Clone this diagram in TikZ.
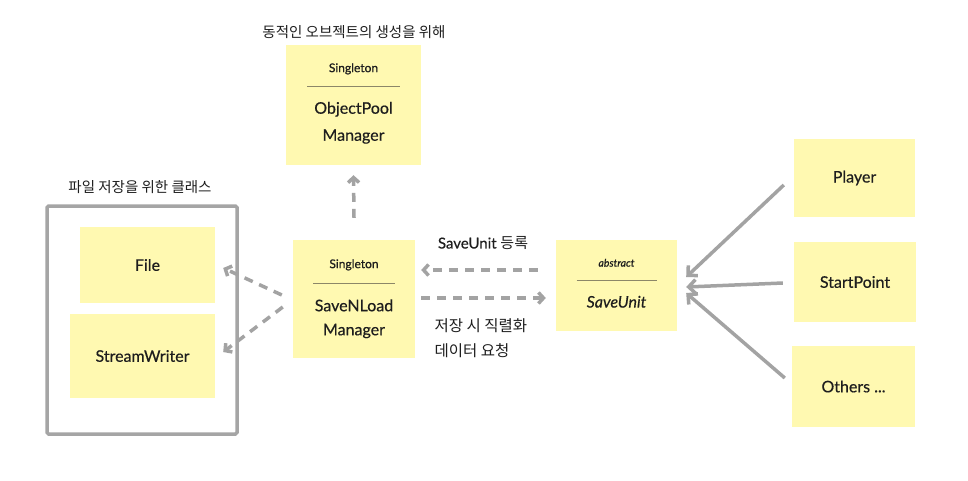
\documentclass[tikz,border=0pt]{standalone}
\usepackage{fontspec}
\setmainfont{Lato}[FakeBold=0.45]
\newfontfamily\cjk{Noto Sans CJK KR}
\newfontfamily\stereo{Lato}[FakeBold=0.9]
\usetikzlibrary{calc,arrows.meta}
\definecolor{sticky}{HTML}{FFF9B1}
\definecolor{arrowgray}{HTML}{A3A3A3}
\definecolor{framegray}{HTML}{A5A5A5}
\definecolor{sepline}{HTML}{8C8768}
\definecolor{ink}{HTML}{1E1E1E}

\begin{document}
\begin{tikzpicture}[x=1pt,y=-1pt,
  note/.style={fill=sticky, draw=none, inner sep=0pt},
  big/.style={font=\fontsize{16}{26}\selectfont, text=ink, align=center},
  small/.style={font=\stereo\fontsize{12}{13}\selectfont, text=ink},
  hangul/.style={font=\cjk\fontsize{14.5}{25}\selectfont, text=ink},
  sep/.style={draw=sepline, line width=1pt},
  frame/.style={draw=framegray, line width=3.5pt, rounded corners=1.5pt, inner sep=0pt},
  dep/.style={draw=arrowgray, line width=3.5pt, dash pattern=on 9pt off 7pt,
    -{Straight Barb[length=5pt,width=11pt]}},
  inherit/.style={draw=arrowgray, line width=3.5pt,
    -{Straight Barb[length=7pt,width=14pt]}}]
  \useasboundingbox (0,0) rectangle (968,480);

  % Pool.
  \node[hangul] (poollbl) at (354,32) {동적인 오브젝트의 생성을 위해};
  \node[note, minimum width=135pt, minimum height=120pt] (pool) at (353.5,105) {};
  \node[small] (poolst) at ($(pool.north)+(0,24)$) {Singleton};
  \draw[sep] ($(pool.north)+(-46.5,42)$) -- ($(pool.north)+(46.5,42)$);
  \node[big, font=\fontsize{16}{27}\selectfont] (poolname) at ($(pool.north)+(0,78)$) {ObjectPool\\Manager};

  % Fichiers.
  \node[hangul] (grplbl) at (140,187) {파일 저장을 위한 클래스};
  \node[frame, minimum width=190pt, minimum height=228pt] (grp) at (142,320) {};
  \node[note, minimum width=135pt, minimum height=76pt] (file) at (147.5,265) {};
  \node[big] (filename) at (file.center) {File};
  \node[note, minimum width=145pt, minimum height=84pt] (writer) at (142.5,356) {};
  \node[big] (writername) at (writer.center) {StreamWriter};

  % SaveNLoad.
  \node[note, minimum width=122pt, minimum height=118pt] (snl) at (354,299) {};
  \node[small] (snlst) at ($(snl.north)+(0,25)$) {Singleton};
  \draw[sep] ($(snl.north)+(-41,44)$) -- ($(snl.north)+(41,44)$);
  \node[big, font=\fontsize{16}{24}\selectfont] (snlname) at ($(snl.north)+(0,79)$) {SaveNLoad\\Manager};

  % SaveUnit.
  \node[note, minimum width=121pt, minimum height=91pt] (su) at (616.5,285.5) {};
  \node[small, font=\stereo\itshape\fontsize{10.5}{11}\selectfont] (sust) at ($(su.north)+(0,23)$) {abstract};
  \draw[sep] ($(su.north)+(-40,41)$) -- ($(su.north)+(40,41)$);
  \node[big, font=\itshape\fontsize{16}{26}\selectfont] (suname) at ($(su.north)+(0,62)$) {SaveUnit};

  % Enfants.
  \node[note, minimum width=121pt, minimum height=78pt] (player) at (854.5,178) {};
  \node[big] (playername) at (player.center) {Player};
  \node[note, minimum width=122pt, minimum height=80pt] (start) at (855,282) {};
  \node[big] (startname) at (start.center) {StartPoint};
  \node[note, minimum width=123pt, minimum height=81pt] (others) at (853.5,386.5) {};
  \node[big] (othersname) at (others.center) {Others ...};

  % Libelles.
  \node[big, font=\fontsize{15}{25}\selectfont] (reglbl) at (483,243) {SaveUnit {\cjk 등록}};
  \node[hangul, font=\cjk\fontsize{15.5}{25}\selectfont, align=left, anchor=west] (reqlbl) at (431,338.5) {저장 시 직렬화\\데이터 요청};

  % Fleches.
  \draw[dep] ([yshift=22pt]snl.north) -- ([yshift=-10pt]pool.south);
  \draw[dep] ([xshift=-11pt,yshift=4pt]snl.west) -- ([xshift=8pt,yshift=-3pt]file.east);
  \draw[dep] ([xshift=-10pt,yshift=-8pt]snl.west) -- ([xshift=8pt,yshift=4pt]writer.east);
  \draw[dep] ([xshift=-18pt,yshift=15.5pt]su.west) -- ([xshift=6pt,yshift=29pt]snl.east);
  \draw[dep] ([xshift=6pt,yshift=1pt]snl.east) -- ([xshift=-10pt,yshift=-12.5pt]su.west);
  \draw[inherit] ([xshift=-10pt,yshift=-7pt]player.west) -- ([xshift=9pt,yshift=8.5pt]su.east);
  \draw[inherit] ([xshift=-11pt,yshift=-1pt]start.west) -- ([xshift=9pt,yshift=-1.5pt]su.east);
  \draw[inherit] ([xshift=-7pt,yshift=8.5pt]others.west) -- ([xshift=9pt,yshift=-7.5pt]su.east);
\end{tikzpicture}
\end{document}
